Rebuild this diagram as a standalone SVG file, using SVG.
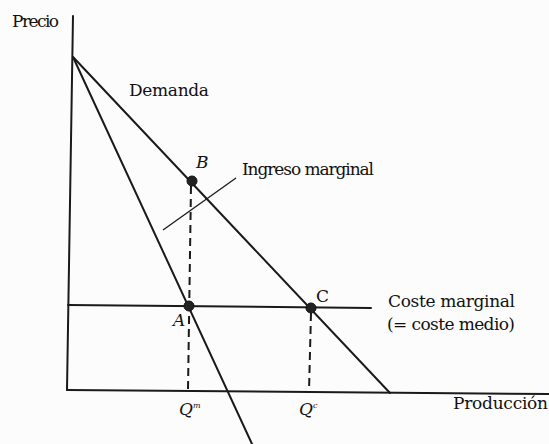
<svg xmlns="http://www.w3.org/2000/svg" width="549" height="444" viewBox="0 0 549 444">
<style>
.ln{stroke:#1a1a1a;stroke-width:2;fill:none;stroke-linecap:round}
.dash{stroke:#1a1a1a;stroke-width:2;fill:none;stroke-dasharray:8 5}
.thin{stroke:#1a1a1a;stroke-width:1.3;fill:none}
.dot{fill:#222;stroke:#111;stroke-width:1}
text{font-family:"DejaVu Serif","Liberation Serif",serif;font-size:17px;fill:#111}
.it{font-style:italic}
</style>
<rect width="549" height="444" fill="#fcfcfc"/>
<g id="connectors">
  <path class="ln" d="M73 16 L67 390"/>
  <path class="ln" d="M67 390 L549 394"/>
  <path class="ln" d="M73 57 L390 393"/>
  <path class="ln" d="M73 57 L252 444"/>
  <path class="ln" d="M68 305 L371 308"/>
  <path class="dash" d="M191 186 L188 390"/>
  <path class="dash" d="M311 313 L309 391"/>
  <path class="thin" d="M163 230 L236 178"/>
</g>
<g id="axis-y"><text x="12" y="27" textLength="47">Precio</text></g>
<g id="axis-x"><text x="453" y="409" textLength="95">Producción</text></g>
<g id="demanda"><text x="129" y="96" textLength="80">Demanda</text></g>
<g id="ingreso-marginal"><text x="242" y="175" textLength="132">Ingreso marginal</text></g>
<g id="coste-marginal"><text x="388" y="307" textLength="127">Coste marginal</text><text x="387" y="330" textLength="128">(= coste medio)</text></g>
<g id="point-B"><circle class="dot" cx="192" cy="181" r="5"/><text class="it" x="196" y="168" font-size="15">B</text></g>
<g id="point-A"><circle class="dot" cx="189" cy="306" r="5"/><text class="it" x="173" y="326" font-size="15">A</text></g>
<g id="point-C"><circle class="dot" cx="311" cy="308" r="5"/><text x="316" y="302" font-size="15">C</text></g>
<g id="q-m"><text class="it" x="179" y="415" font-size="15">Q<tspan font-size="8" dy="-7">m</tspan></text></g>
<g id="q-c"><text class="it" x="299" y="415" font-size="15">Q<tspan font-size="8" dy="-7">c</tspan></text></g>
</svg>
